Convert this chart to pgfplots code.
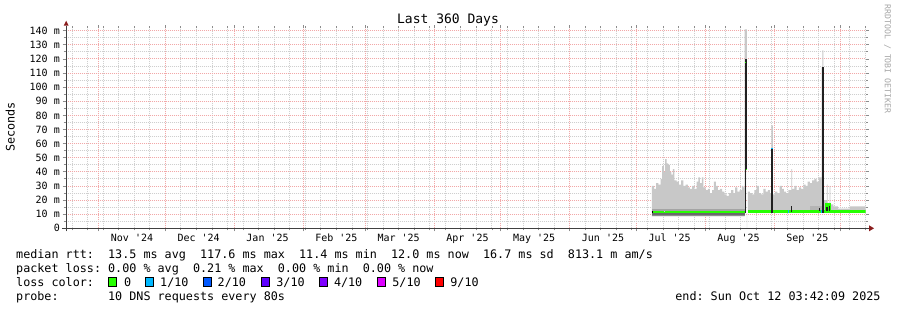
\documentclass[border=0pt]{standalone}
\usepackage{fontspec}
\setmainfont{DejaVu Sans Mono}
\usepackage{pgfplots}
\usepackage{pgfplotstable}
\pgfplotsset{compat=1.18}
\frenchspacing
\definecolor{mgrid}{HTML}{F2A8A8}
\definecolor{mingrid}{HTML}{CFCFCF}
\definecolor{smoke}{HTML}{C8C8C8}
\definecolor{bandA}{HTML}{8C8C8C}
\definecolor{bandB}{HTML}{6A6A6A}
\definecolor{bandC}{HTML}{A4A4A4}
\definecolor{bandD}{HTML}{B4B4B4}
\definecolor{spike}{HTML}{202020}
\definecolor{axiscol}{HTML}{404040}
\definecolor{arrowred}{HTML}{8B1E1E}
\definecolor{lz}{HTML}{26FF00}
\definecolor{la}{HTML}{00B8FF}
\definecolor{lb}{HTML}{0059FF}
\definecolor{lc}{HTML}{5E00FF}
\definecolor{ld}{HTML}{7E00FF}
\definecolor{le}{HTML}{DD00FF}
\definecolor{lf}{HTML}{FF0000}
\newcommand\ticksize{\fontsize{10bp}{12bp}\selectfont}
\newcommand\legsize{\fontsize{11.75bp}{14bp}\selectfont}
\newcommand\titsize{\fontsize{13bp}{15bp}\selectfont}
\newcommand\wmsize{\fontsize{8.2bp}{10bp}\selectfont}

% light grey smoke outline, days since 17 Oct 2024 03:42:
% its top from left to right, then its bottom from right to left
\pgfplotstableread{
x y
263.8 30
264.8 28
265.8 32
266.8 31
267.8 35
268.5 44
269.2 40
269.8 49
270.5 46
271.2 45
271.9 40
272.6 38
273.3 42
274.0 34
275.0 33
276.0 31
277.0 34
278.0 30
279.0 31
280.0 29
281.0 28
282.0 30
283.0 28
284.0 33
284.8 36
285.5 32
286.3 36
287.0 29
288.0 27
289.0 28
290.0 25
291.0 27
291.8 33
292.6 30
293.5 27
294.5 28
295.5 26
296.5 24
297.5 23
298.5 25
299.5 27
300.5 25
301.3 29
302.3 26
303.3 27
304.3 30
305.0 29
305.55 141
306.6 0
307.0 26
308.0 25
309.0 24
310.0 27
311.0 30
312.0 25
313.0 24
314.0 28
315.0 26
316.0 27
317.0 25
317.6 73
318.3 24
319.3 26
320.3 25
321.3 30
322.3 28
323.3 26
324.3 25
325.3 27
326.6 42
327.0 28
328.0 30
329.0 27
330.0 29
331.0 28
332.0 31
333.0 30
334.0 33
335.0 32
336.0 34
337.0 35
338.0 33
339.0 36
340.2 114
340.6 126
341.0 114
341.3 20
342.6 31
343.0 18
343.8 30
344.2 17
345.5 15.6
347.6 14
353.0 15.6
360.0 15.6
360.0 11
307.0 0
306.6 41.7
306.15 11
305.55 8.5
263.8 8.5
}\smoke

% median rtt, first period
\pgfplotstableread{
x y
263.8 11.5
268.8 11.3
270.3 11.5
277.0 11.9
277.6 11.5
286.8 11.9
287.3 11.5
292.2 11.9
292.8 11.5
305.55 11.5
}\medA

% median rtt, second period
\pgfplotstableread{
x y
307.0 12.1
342.4 16.5
343.9 12.1
360.0 12.1
}\medB

\begin{document}
\begin{tikzpicture}
\fill[white] (-65.7bp,-81.7bp) rectangle (831.3bp,228.3bp);
\path[use as bounding box] (-65.7bp,-81.7bp) rectangle (831.3bp,228.3bp);
\begin{axis}[
  at={(0,0)}, anchor=south west,
  scale only axis, width=799.8bp, height=200bp,
  xmin=0, xmax=360, ymin=0, ymax=141.7,
  axis line style={draw=none},
  clip=true,
  xtick={14.85,44.85,75.85,106.85,134.85,165.85,195.85,226.85,256.85,287.85,318.85,348.85},
  xticklabels={Nov \textquotesingle24,Dec \textquotesingle24,Jan \textquotesingle25,Feb \textquotesingle25,Mar \textquotesingle25,Apr \textquotesingle25,May \textquotesingle25,Jun \textquotesingle25,Jul \textquotesingle25,Aug \textquotesingle25,Sep \textquotesingle25,{}},
  minor xtick={2.85,9.85,...,359.85},
  ytick={0,10,...,140},
  yticklabels={0\hspace{1.204em},10 m,20 m,30 m,40 m,50 m,60 m,70 m,80 m,90 m,100 m,110 m,120 m,130 m,140 m},
  minor ytick={5,15,...,135},
  grid=both,
  major grid style={draw=mgrid, line width=0.9bp, dash pattern=on 1bp off 1bp},
  minor grid style={draw=mingrid, line width=0.9bp, dash pattern=on 1bp off 1bp},
  tick align=outside,
  major tick length=3bp, minor tick length=2bp,
  tick style={black!45, line width=0.8bp},
  xticklabel style={font=\ticksize, anchor=base, inner sep=0pt, xshift=33.325bp, yshift=-9.7bp},
  yticklabel style={font=\ticksize, anchor=east, inner sep=0pt, xshift=-2.7bp},
]
% light grey smoke
\addplot[const plot mark left, fill=smoke, draw=none] table {\smoke} -- cycle;
% dense smoke bands
\addplot[fill=bandA, draw=none] coordinates {(263.8,8.5) (305.55,8.5) (305.55,9.7) (263.8,9.7)} -- cycle;
\addplot[fill=bandB, draw=none] coordinates {(263.8,9.7) (305.55,9.7) (305.55,10.9) (263.8,10.9)} -- cycle;
\addplot[fill=bandC, draw=none] coordinates {(263.8,12.1) (305.55,12.1) (305.55,14.0) (263.8,14.0)} -- cycle;
\addplot[fill=bandD, draw=none] coordinates {(335.0,12.5) (340.2,12.5) (340.2,15.5) (335.0,15.5)} -- cycle;
% median lines
\addplot[const plot mark left, lz, line width=1.7bp] table {\medA};
\addplot[const plot mark left, lz, line width=3.3bp] table {\medB};
\addplot[black, line width=1.7bp] coordinates {(263.8,11.5) (264.4,11.5)};
\addplot[la, line width=3.3bp] coordinates {(324.9,12.1) (325.6,12.1)};
\addplot[la, line width=3.3bp] coordinates {(339.8,12.1) (340.2,12.1)};
% spikes
\addplot[fill=spike, draw=none] coordinates {(305.55,11) (306.15,11) (306.15,120) (305.55,120)} -- cycle;
\addplot[fill=spike, draw=none] coordinates {(306.15,41.7) (306.6,41.7) (306.6,120) (306.15,120)} -- cycle;
\addplot[fill=spike, draw=none] coordinates {(317.6,11) (318.3,11) (318.3,56.6) (317.6,56.6)} -- cycle;
\addplot[fill=spike, draw=none] coordinates {(340.2,11) (341.3,11) (341.3,114) (340.2,114)} -- cycle;
\addplot[fill=spike, draw=none] coordinates {(326.6,11.5) (327.0,11.5) (327.0,15.5) (326.6,15.5)} -- cycle;
\addplot[fill=spike, draw=none] coordinates {(338.9,12) (339.3,12) (339.3,14.5) (338.9,14.5)} -- cycle;
\addplot[fill=spike, draw=none] coordinates {(342.4,12) (343.0,12) (343.0,15) (342.4,15)} -- cycle;
\addplot[fill=spike, draw=none] coordinates {(343.4,12) (343.9,12) (343.9,15.5) (343.4,15.5)} -- cycle;
% median at the spikes
\addplot[lz, line width=1.5bp] coordinates {(305.55,117.6) (306.15,117.6)};
\addplot[lz, line width=1.5bp] coordinates {(306.15,41.7) (306.6,41.7)};
\addplot[la, line width=1.5bp] coordinates {(317.6,56.6) (318.3,56.6)};
\end{axis}
% axis lines with arrows
\draw[axiscol, line width=1bp] (-3.7bp,0) -- (803.3bp,0);
\fill[arrowred] (803.3bp,-3bp) -- (808.3bp,0) -- (803.3bp,3bp) -- cycle;
\draw[axiscol, line width=1bp] (0.5bp,-3bp) -- (0.5bp,202.6bp);
\fill[arrowred] (-2bp,202.6bp) -- (0.5bp,207.6bp) -- (3bp,202.6bp) -- cycle;
% texts
\node[font=\titsize, anchor=base, inner sep=0pt] at (382.3bp,204.3bp) {Last 360 Days};
\node[font=\legsize, rotate=90, inner sep=0pt] at (-55.4bp,101.3bp) {Seconds};
\node[font=\wmsize, rotate=-90, inner sep=0pt, text=black!35] at (821.8bp,169.3bp) {RRDTOOL / TOBI OETIKER};
\begin{scope}[every node/.style={font=\legsize, inner sep=0pt, anchor=base west}]
\node at (-49.7bp,-30bp) {median rtt:\ \ 13.5 ms avg\ \ 117.6 ms max\ \ 11.4 ms min\ \ 12.0 ms now\ \ 16.7 ms sd\ \ 813.1 m am/s};
\node at (-49.7bp,-44bp) {packet loss: 0.00 \% avg\ \ 0.21 \% max\ \ 0.00 \% min\ \ 0.00 \% now};
\node at (-49.7bp,-58bp) {loss color:};
\node at (58.3bp,-58bp) {0};
\node at (94.3bp,-58bp) {1/10};
\node at (151.8bp,-58bp) {2/10};
\node at (210.5bp,-58bp) {3/10};
\node at (268.1bp,-58bp) {4/10};
\node at (326.5bp,-58bp) {5/10};
\node at (384.5bp,-58bp) {9/10};
\node at (-49.7bp,-71.7bp) {probe:\ \ \ \ \ \ \ 10 DNS requests every 80s};
\node[anchor=base east] at (815bp,-71.7bp) {end: Sun Oct 12 03:42:09 2025};
\end{scope}
\foreach \bx/\bc in {42.6/lz,80.0/la,137.3/lb,196.0/lc,253.6/ld,312.0/le,370.0/lf}{
  \filldraw[fill=\bc, draw=black, line width=0.6bp] (\bx bp,-58.4bp) rectangle ++(8bp,9.6bp);
}
\end{tikzpicture}
\end{document}
